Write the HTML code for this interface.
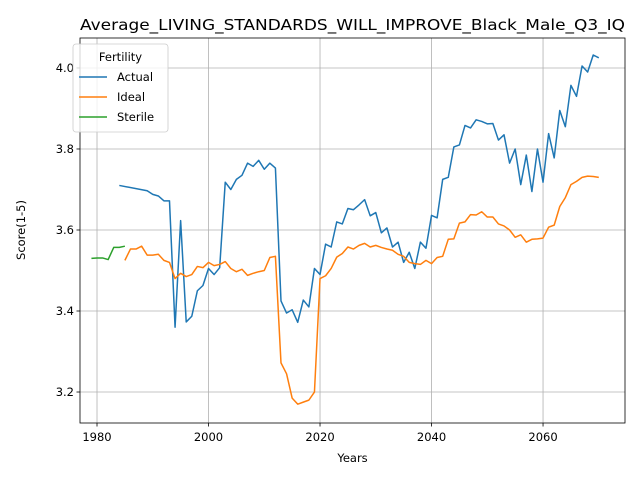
<!DOCTYPE html>
<html><head><meta charset="utf-8"><style>
body{margin:0;background:#fff;font-family:"Liberation Sans","DejaVu Sans",sans-serif}
</style></head><body>
<svg id="chart" width="640" height="480" xmlns="http://www.w3.org/2000/svg" font-family="DejaVu Sans, Liberation Sans, sans-serif"></svg>
<script>
const actualYears=[1984,1989,1990,1991,1992,1993,1994,1995,1996,1997,1998,1999,2000,2001,2002,2003,2004,2005,2006,2007,2008,2009,2010,2011,2012,2013,2014,2015,2016,2017,2018,2019,2020,2021,2022,2023,2024,2025,2026,2027,2028,2029,2030,2031,2032,2033,2034,2035,2036,2037,2038,2039,2040,2041,2042,2043,2044,2045,2046,2047,2048,2049,2050,2051,2052,2053,2054,2055,2056,2057,2058,2059,2060,2061,2062,2063,2064,2065,2066,2067,2068,2069,2070];
const actualValues=[3.71,3.697,3.688,3.684,3.672,3.672,3.36,3.623,3.373,3.387,3.45,3.463,3.505,3.49,3.507,3.718,3.70,3.725,3.735,3.765,3.757,3.772,3.75,3.765,3.753,3.425,3.395,3.403,3.372,3.427,3.41,3.505,3.49,3.565,3.558,3.62,3.615,3.653,3.65,3.662,3.675,3.635,3.643,3.593,3.605,3.558,3.57,3.52,3.545,3.505,3.57,3.555,3.636,3.63,3.725,3.73,3.805,3.81,3.858,3.852,3.872,3.868,3.862,3.863,3.822,3.835,3.765,3.80,3.712,3.785,3.695,3.80,3.718,3.838,3.778,3.895,3.855,3.957,3.93,4.005,3.99,4.032,4.025];
const idealStart=1985;
const idealValues=[3.525,3.553,3.553,3.56,3.538,3.538,3.54,3.525,3.52,3.48,3.493,3.485,3.49,3.51,3.507,3.52,3.512,3.515,3.522,3.505,3.497,3.503,3.488,3.493,3.497,3.5,3.532,3.535,3.272,3.245,3.185,3.17,3.175,3.18,3.2,3.48,3.487,3.505,3.533,3.542,3.558,3.553,3.562,3.567,3.558,3.562,3.557,3.553,3.55,3.54,3.535,3.52,3.517,3.515,3.525,3.517,3.532,3.535,3.577,3.578,3.617,3.62,3.638,3.637,3.645,3.632,3.632,3.615,3.61,3.6,3.582,3.588,3.57,3.577,3.578,3.58,3.607,3.612,3.658,3.68,3.712,3.72,3.73,3.733,3.732,3.73];
const sterileStart=1979;
const sterileValues=[3.53,3.531,3.531,3.527,3.557,3.557,3.56];
const xTicks=[1980,2000,2020,2040,2060];
const yTicks=[3.2,3.4,3.6,3.8,4.0];

const svg=document.getElementById('chart');
const NS='http://www.w3.org/2000/svg';
const L=80,R=625,T=38,B=423;
const x0=1976.95,x1=2074.7,y0=3.1235,y1=4.074;
const X=v=>L+(v-x0)/(x1-x0)*(R-L);
const Y=v=>B-(v-y0)/(y1-y0)*(B-T);
function mk(tag,attrs,parent){const e=document.createElementNS(NS,tag);for(const k in attrs)e.setAttribute(k,attrs[k]);(parent||svg).appendChild(e);return e;}

const grid=mk('g',{});


xTicks.forEach(t=>{
  mk('line',{x1:X(t),x2:X(t),y1:T,y2:B,stroke:'#b0b0b0','stroke-width':0.8},grid);
  mk('line',{x1:X(t),x2:X(t),y1:B,y2:B+3.5,stroke:'#000','stroke-width':0.8},grid);
  const tx=mk('text',{x:X(t),y:B+18,'text-anchor':'middle','font-size':11.5});
  tx.textContent=t;
  
  
});
yTicks.forEach(t=>{
  mk('line',{x1:L,x2:R,y1:Y(t),y2:Y(t),stroke:'#b0b0b0','stroke-width':0.8},grid);
  mk('line',{x1:L-3.5,x2:L,y1:Y(t),y2:Y(t),stroke:'#000','stroke-width':0.8},grid);
  const tx=mk('text',{x:L-6,y:Y(t)+4,'text-anchor':'end','font-size':11.5});
  tx.textContent=t.toFixed(1);
  
  
});
function line(xs,vs,color,name){
  const p=mk('polyline',{points:xs.map((x,i)=>X(x)+','+Y(vs[i])).join(' '),fill:'none',stroke:color,'stroke-width':1.5,'stroke-linejoin':'round'});
  
  
}
line(actualYears,actualValues,'#1f77b4','actual-line');
line(idealValues.map((_,i)=>idealStart+i),idealValues,'#ff7f0e','ideal-line');
line(sterileValues.map((_,i)=>sterileStart+i),sterileValues,'#2ca02c','sterile-line');
const fr=mk('rect',{x:L,y:T,width:R-L,height:B-T,fill:'none',stroke:'#000','stroke-width':0.8});


const ti=mk('text',{x:(L+R)/2,y:T-8,'text-anchor':'middle','font-size':15,textLength:545,lengthAdjust:'spacingAndGlyphs'});
ti.textContent='Average_LIVING_STANDARDS_WILL_IMPROVE_Black_Male_Q3_IQ';


const xl=mk('text',{x:(L+R)/2,y:462,'text-anchor':'middle','font-size':11.5});
xl.textContent='Years';


const yl=mk('text',{x:0,y:0,'text-anchor':'middle','font-size':11.5,transform:'translate(25,230) rotate(-90)'});
yl.textContent='Score(1-5)';


const lg=mk('g',{});


mk('rect',{x:73,y:44,width:95,height:88,rx:3,fill:'#fff','fill-opacity':0.8,stroke:'#ccc','stroke-width':0.8},lg);
const lt=mk('text',{x:120.5,y:61,'text-anchor':'middle','font-size':11.5},lg);
lt.textContent='Fertility';
[['Actual','#1f77b4'],['Ideal','#ff7f0e'],['Sterile','#2ca02c']].forEach((s,i)=>{
  const y=77+i*20;
  const g=mk('g',{},lg);
  
  
  mk('line',{x1:79,x2:107,y1:y,y2:y,stroke:s[1],'stroke-width':1.5},g);
  const t=mk('text',{x:117,y:y+4,'font-size':11.5},g);t.textContent=s[0];
});
</script>
</body></html>
